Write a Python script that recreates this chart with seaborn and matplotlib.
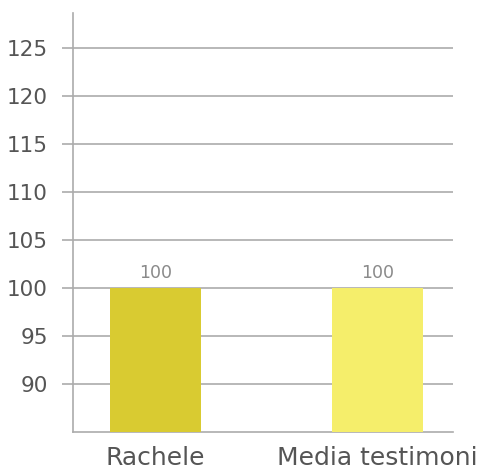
import matplotlib
matplotlib.use("Agg")
import matplotlib.pyplot as plt
import seaborn as sns

# data
categories = ["Rachele", "Media testimoni"]
values = [100, 100]
bar_colors = ["#D9CB31", "#F5EE6B"]
y_ticks = [90, 95, 100, 105, 110, 115, 120, 125]

sns.set_style("white")
plt.rcParams["font.family"] = ["DejaVu Sans"]

fig = plt.figure(figsize=(4.89, 4.73), dpi=100)
ax = fig.add_axes([0.1493, 0.0867, 0.7771, 0.8858])

grid_col = "#ABABAB"
sns.barplot(x=categories, y=values, hue=categories, palette=bar_colors,
            width=0.41, saturation=1, linewidth=0, legend=False, ax=ax, zorder=3)

for container in ax.containers:
    ax.bar_label(container, fmt="%d", padding=4, fontsize=12.5, color="#8A8A8A")

ax.set_ylim(85, 128.6)
ax.set_xlim(-0.37, 1.34)
ax.set_yticks(y_ticks)
ax.yaxis.grid(True, color=grid_col, linewidth=1.2, zorder=0)
ax.set_axisbelow(True)

for side in ["top", "right"]:
    ax.spines[side].set_visible(False)
for side in ["left", "bottom"]:
    ax.spines[side].set_color(grid_col)
    ax.spines[side].set_linewidth(1.2)

ax.tick_params(axis="y", length=8, width=1.2, color=grid_col, pad=10,
               labelsize=15.5, labelcolor="#555555", left=True)
ax.tick_params(axis="x", length=0, pad=10, labelsize=18, labelcolor="#555555")
ax.set_xlabel("")
ax.set_ylabel("")

fig.savefig("out.png", dpi=100)
